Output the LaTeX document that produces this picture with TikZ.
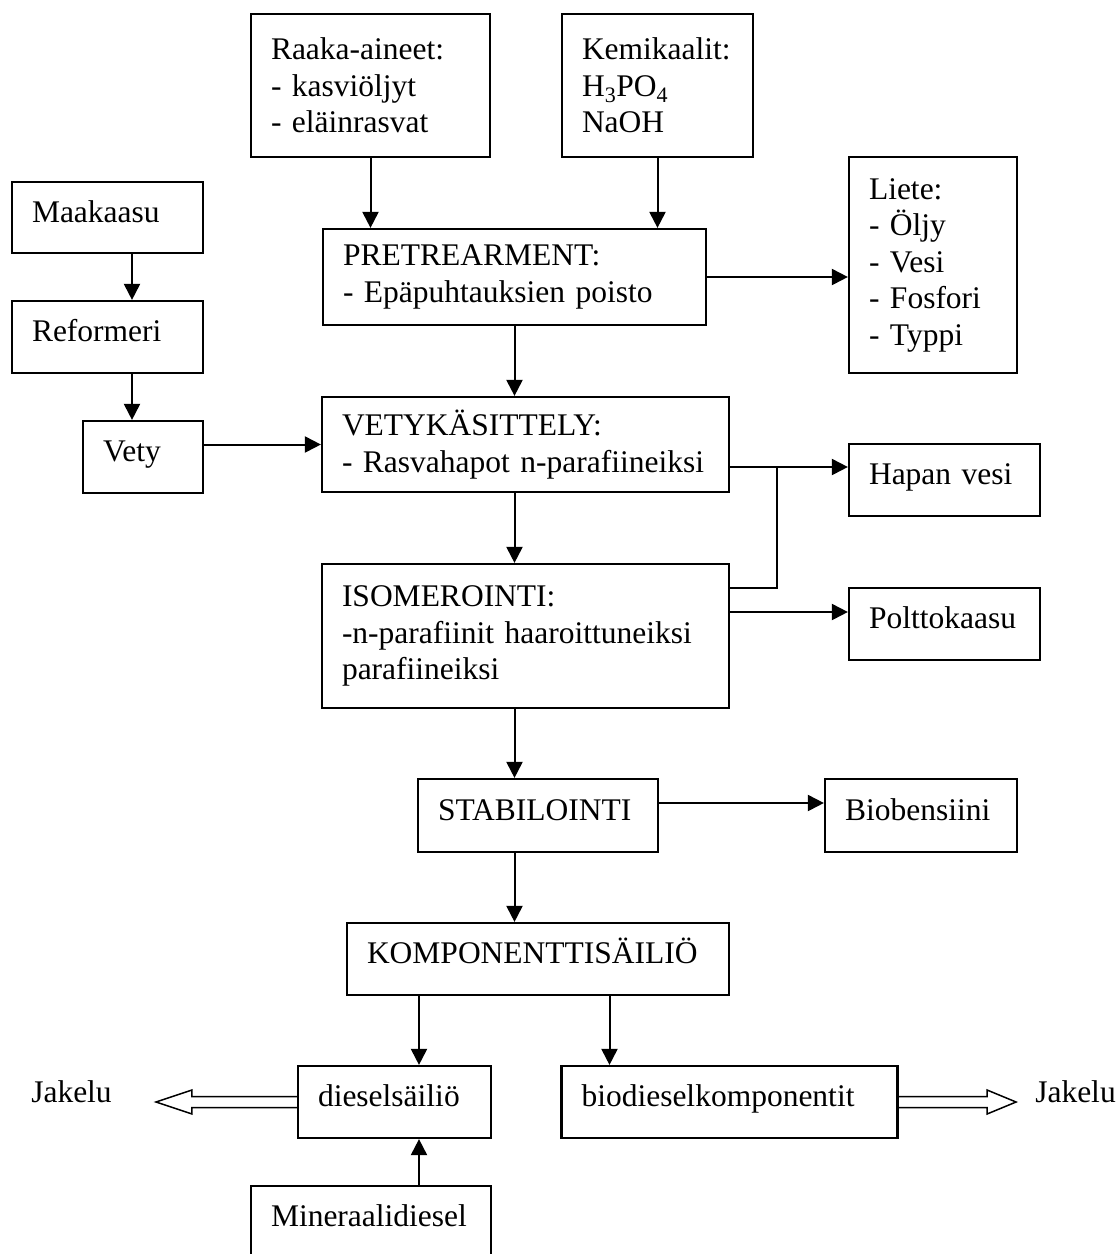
\documentclass[tikz,border=0pt]{standalone}
\usepackage{fontspec}
\setmainfont{Liberation Serif}
\usetikzlibrary{arrows.meta,calc}

\begin{document}
\begin{tikzpicture}
        [x=1pt, y=-1pt,
        every node/.style={font=\fontsize{31.5}{36.5}\selectfont},
        box/.style={draw, line width=2.2pt, inner xsep=20pt, inner ysep=0pt, align=left,
            execute at begin node={\hyphenpenalty=10000\exhyphenpenalty=10000}},
        one/.style={text height=22pt, text depth=13pt},
        txt/.style={inner sep=0pt, one},
        line/.style={line width=2pt},
        arr/.style={line width=2pt, -{Triangle[length=16pt,width=16pt]}},
        hollow/.style={line width=1.5pt, line join=miter}]
        \useasboundingbox (0,0) rectangle (1120,1254);
        \node[box, text width=199pt, minimum height=143pt] (raaka) at (370.5,85.5)
            {Raaka-aineet:\\- kasviöljyt\\- eläinrasvat};
        \node[box, text width=151pt, minimum height=143pt] (kemi) at (657.5,85.5)
            {Kemikaalit:\\H\textsubscript{3}PO\textsubscript{4}\\NaOH};
        \node[box, one, text width=151pt, minimum height=71pt] (maa) at (107.5,217.5) {Maakaasu};
        \node[box, one, text width=151pt, minimum height=72pt] (ref) at (107.5,337) {Reformeri};
        \node[box, one, text width=80pt, minimum height=72pt] (vety) at (143,457) {Vety};
        \node[box, text width=343pt, minimum height=96pt] (pre) at (514.5,277)
            {PRETREARMENT:\\- Epäpuhtauksien poisto};
        \node[box, text width=128pt, minimum height=216pt] (liete) at (933,265)
            {Liete:\\- Öljy\\- Vesi\\- Fosfori\\- Typpi};
        \node[box, text width=367pt, minimum height=95pt] (vetyk) at (525.5,444.5)
            {VETYKÄSITTELY:\\- Rasvahapot n-parafiineiksi};
        \node[box, one, text width=151pt, minimum height=72pt] (hapan) at (944.5,480) {Hapan vesi};
        \node[box, text width=367pt, minimum height=144pt] (iso) at (525.5,636)
            {ISOMEROINTI:\\-n-parafiinit haaroittuneiksi\\parafiineiksi};
        \node[box, one, text width=151pt, minimum height=72pt] (poltto) at (944.5,624) {Polttokaasu};
        \node[box, one, text width=200pt, minimum height=73pt] (stab) at (538,815.5) {STABILOINTI};
        \node[box, one, text width=152pt, minimum height=73pt] (bio) at (921,815.5) {Biobensiini};
        \node[box, one, text width=342pt, minimum height=72pt] (komp) at (538,959) {KOMPONENTTISÄILIÖ};
        \node[box, one, text width=153pt, minimum height=72pt] (ds) at (394.5,1102) {dieselsäiliö};
        \node[box, one, text width=296pt, minimum height=72pt] (bd) at (729.5,1102) {biodieselkomponentit};
        \node[box, one, text width=200pt, minimum height=72pt] (min) at (371,1222) {Mineraalidiesel};
        \node[txt] (jl) at (71.5,1098) {Jakelu};
        \node[txt] (jr) at (1075.5,1098) {Jakelu};

        \coordinate (h2) at ($(vety.north)+(-11,0)$);
        \coordinate (jn) at (777,467);
        \coordinate (jb) at (777,588);
        \coordinate (pk) at (800,612);
        \coordinate (dsin) at ($(ds.north)+(24.5,0)$);
        \coordinate (bdin) at ($(bd.north)+(-120,0)$);
        \coordinate (jlt) at ($(jl.east |- ds.west)+(44,0)$);
        \coordinate (jrt) at ($(jr.west |- bd.east)+(-19,0)$);

        \draw[arr] (raaka) edge (raaka.south |- pre.north)
            (kemi) edge (kemi.south |- pre.north)
            (pre) edge (pre.east -| liete.west)
            (pre) edge (pre.south |- vetyk.north);
        \draw[arr] (maa.south -| h2) -- (ref.north -| h2);
        \draw[arr] (ref.south -| h2) -- (h2);
        \draw[arr] (vety.east |- vetyk.west) -- (vetyk.west);
        \draw[arr] (vetyk.south -| pre.south) -- (iso.north -| pre.south);
        \draw[arr] (vetyk.east |- jn) -- (hapan.west |- jn);
        \draw[line] (iso.east |- jb) -- (jb) -- (jn);
        \draw[arr] (iso.east |- pk) -- (poltto.west |- pk);
        \draw[arr] (iso.south -| pre.south) -- (stab.north -| pre.south);
        \draw[arr] ([yshift=12.5pt]stab.east) -- ([yshift=12.5pt]bio.west);
        \draw[arr] (stab.south -| pre.south) -- (komp.north -| pre.south);
        \draw[arr] (komp.south -| dsin) -- (dsin);
        \draw[arr] (komp.south -| bdin) -- (bdin);
        \draw[arr] (min.north -| dsin) -- (ds.south -| dsin);

        \draw[hollow] ($(ds.west)+(0,-5.5)$) -- ($(jlt)+(36,-5.5)$) -- ($(jlt)+(36,-12)$)
            -- (jlt) -- ($(jlt)+(36,12)$) -- ($(jlt)+(36,5.5)$) -- ($(ds.west)+(0,5.5)$);
        \draw[hollow] ($(bd.east)+(0,-5.5)$) -- ($(jrt)+(-29,-5.5)$) -- ($(jrt)+(-29,-12)$)
            -- (jrt) -- ($(jrt)+(-29,12)$) -- ($(jrt)+(-29,5.5)$) -- ($(bd.east)+(0,5.5)$);
    \end{tikzpicture}
\end{document}
